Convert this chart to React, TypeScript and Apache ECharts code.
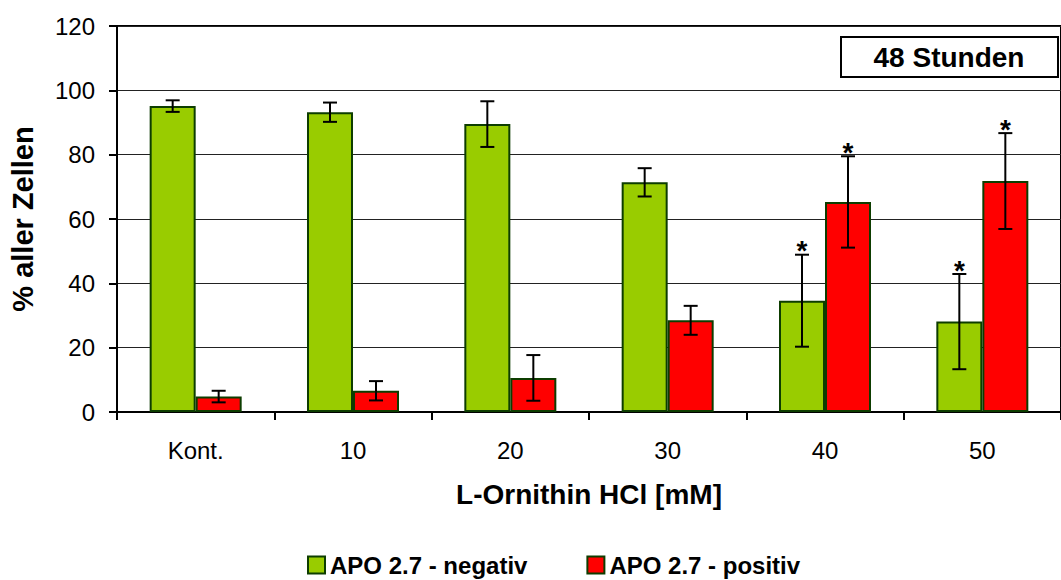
import React, { useEffect, useRef } from "react";
import * as echarts from "echarts";

const categories = ["Kont.", "10", "20", "30", "40", "50"];
const negMean = [95.1, 93.2, 89.5, 71.4, 34.6, 28.1];
const negErr = [1.8, 3.0, 7.1, 4.4, 14.3, 14.8];
const negSig = [0, 0, 0, 0, 1, 1];
const posMean = [4.8, 6.6, 10.6, 28.5, 65.3, 71.8];
const posErr = [1.8, 3.0, 7.1, 4.5, 14.2, 14.9];
const posSig = [0, 0, 0, 0, 1, 1];
const seriesNames = ["APO 2.7 - negativ", "APO 2.7 - positiv"];
const yTicks = [0, 20, 40, 60, 80, 100, 120];

const FONT = "'Liberation Sans', Arial, sans-serif";
const BAR_W = 46;

function errorSeries(means: number[], errs: number[], sig: number[], side: number) {
  return {
    type: "custom",
    z: 10,
    silent: true,
    data: means.map((m, i) => [i, m, errs[i], sig[i]]),
    renderItem: (params: any, api: any) => {
      const idx = api.value(0);
      const mean = api.value(1);
      const err = api.value(2);
      const s = api.value(3);
      const top = api.coord([idx, mean + err]);
      const bot = api.coord([idx, mean - err]);
      const x = top[0] + side * (BAR_W / 2);
      const style = { stroke: "#000", lineWidth: 2 };
      const cap = 7;
      const children: any[] = [
        { type: "line", shape: { x1: x, y1: top[1], x2: x, y2: bot[1] }, style },
        { type: "line", shape: { x1: x - cap, y1: top[1], x2: x + cap, y2: top[1] }, style },
        { type: "line", shape: { x1: x - cap, y1: bot[1], x2: x + cap, y2: bot[1] }, style },
      ];
      if (s) {
        children.push({
          type: "text",
          x: x,
          y: top[1] - 4,
          style: {
            text: "*",
            fill: "#000",
            font: `bold 28px ${FONT}`,
            textAlign: "center",
            textVerticalAlign: "middle",
          },
        });
      }
      return { type: "group", children };
    },
  };
}

export default function App() {
  const ref = useRef<HTMLDivElement>(null);
  useEffect(() => {
    if (!ref.current) return;
    const chart = echarts.init(ref.current, undefined, { renderer: "svg" });
    chart.setOption({
      animation: false,
      backgroundColor: "#fff",
      textStyle: { fontFamily: FONT },
      grid: {
        left: 116,
        top: 26,
        width: 954,
        height: 386,
        show: true,
        borderColor: "#000",
        borderWidth: 2,
        containLabel: false,
      },
      legend: {
        left: 307,
        top: 553,
        padding: 0,
        itemWidth: 17,
        itemHeight: 17,
        itemGap: 59,
        icon: "rect",
        data: seriesNames,
        textStyle: { fontFamily: FONT, fontSize: 24, fontWeight: "bold", color: "#000" },
      },
      xAxis: {
        type: "category",
        data: categories,
        axisLine: { lineStyle: { color: "#000", width: 2 } },
        axisTick: { show: true, length: 8, lineStyle: { color: "#000", width: 2 } },
        axisLabel: { color: "#000", fontSize: 24, margin: 26, fontFamily: FONT },
        name: "L-Ornithin HCl [mM]",
        nameLocation: "middle",
        nameGap: 68,
        nameTextStyle: { color: "#000", fontSize: 28, fontWeight: "bold", fontFamily: FONT },
      },
      yAxis: {
        type: "value",
        min: 0,
        max: 120,
        interval: 20,
        axisLine: { show: true, lineStyle: { color: "#000", width: 2 } },
        axisTick: { show: true, length: 8, lineStyle: { color: "#000", width: 2 } },
        axisLabel: {
          color: "#000",
          fontSize: 24,
          margin: 22,
          fontFamily: FONT,
          formatter: (v: number) => (yTicks.includes(v) ? String(v) : ""),
        },
        splitLine: { show: true, lineStyle: { color: "#222", width: 1 } },
        name: "% aller Zellen",
        nameLocation: "middle",
        nameGap: 80,
        nameTextStyle: { color: "#000", fontSize: 29, fontWeight: "bold", fontFamily: FONT },
      },
      series: [
        {
          name: seriesNames[0],
          type: "bar",
          data: negMean,
          barWidth: BAR_W,
          barGap: "0%",
          itemStyle: { color: "#99cc00", borderColor: "#0d3d00", borderWidth: 2 },
        },
        {
          name: seriesNames[1],
          type: "bar",
          data: posMean,
          barWidth: BAR_W,
          barGap: "0%",
          itemStyle: { color: "#ff0000", borderColor: "#0d3d00", borderWidth: 2 },
        },
        errorSeries(negMean, negErr, negSig, -1),
        errorSeries(posMean, posErr, posSig, 1),
      ],
      graphic: [
        {
          type: "rect",
          shape: { x: 841, y: 37, width: 217, height: 40 },
          style: { fill: "#fff", stroke: "#000", lineWidth: 2 },
          z: 100,
        },
        {
          type: "text",
          x: 949,
          y: 57,
          z: 101,
          style: {
            text: "48 Stunden",
            fill: "#000",
            font: `bold 28px ${FONT}`,
            textAlign: "center",
            textVerticalAlign: "middle",
          },
        },
      ],
    });
    return () => chart.dispose();
  }, []);
  return <div ref={ref} style={{ width: 1061, height: 580, position: "absolute", left: 0, top: 0 }} />;
}
